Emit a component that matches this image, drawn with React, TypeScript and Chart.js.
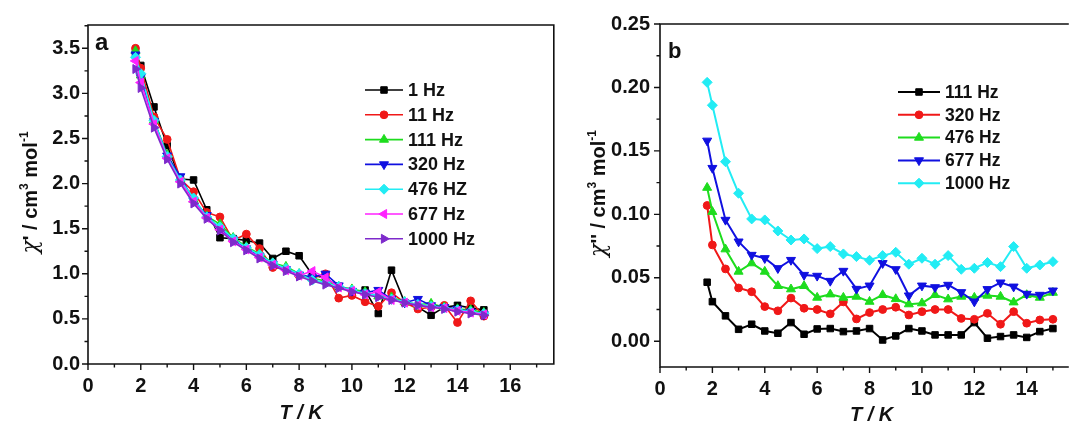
import React, { useEffect, useRef } from "react";
import { Chart, registerables } from "chart.js";
import { drawPoint } from "chart.js/helpers";

Chart.register(...registerables);

// ---------- data ----------
const TEMPS = [1.8, 2, 2.5, 3, 3.5, 4, 4.5, 5, 5.5, 6, 6.5, 7, 7.5, 8, 8.5, 9, 9.5, 10, 10.5, 11, 11.5, 12, 12.5, 13, 13.5, 14, 14.5, 15];

// panel a : chi'
const A_LABELS = ["1 Hz", "11 Hz", "111 Hz", "320 Hz", "476 HZ", "677 Hz", "1000 Hz"];
const A_1HZ = [3.45, 3.31, 2.85, 2.42, 2.05, 2.04, 1.71, 1.40, 1.39, 1.37, 1.34, 1.17, 1.25, 1.20, 0.99, 0.95, 0.86, 0.80, 0.82, 0.56, 1.04, 0.68, 0.63, 0.54, 0.63, 0.65, 0.62, 0.60];
const A_11HZ = [3.50, 3.28, 2.74, 2.49, 2.05, 1.91, 1.68, 1.63, 1.37, 1.44, 1.28, 1.07, 1.05, 0.98, 0.95, 1.00, 0.73, 0.76, 0.69, 0.64, 0.79, 0.68, 0.61, 0.63, 0.65, 0.46, 0.70, 0.53];
const A_111HZ = [3.47, 3.20, 2.70, 2.32, 2.05, 1.82, 1.64, 1.55, 1.40, 1.30, 1.22, 1.12, 1.08, 1.00, 0.95, 0.92, 0.86, 0.83, 0.80, 0.75, 0.74, 0.69, 0.66, 0.67, 0.63, 0.61, 0.60, 0.57];
const A_320HZ = [3.43, 3.18, 2.69, 2.31, 2.08, 1.81, 1.65, 1.50, 1.38, 1.28, 1.20, 1.11, 1.05, 0.99, 0.96, 1.00, 0.87, 0.81, 0.79, 0.82, 0.72, 0.68, 0.72, 0.65, 0.63, 0.61, 0.58, 0.55];
const A_476HZ = [3.40, 3.22, 2.70, 2.30, 2.04, 1.84, 1.63, 1.52, 1.39, 1.29, 1.21, 1.12, 1.06, 1.00, 0.93, 0.90, 0.86, 0.82, 0.78, 0.76, 0.72, 0.69, 0.66, 0.64, 0.62, 0.60, 0.58, 0.56];
const A_677HZ = [3.36, 3.12, 2.66, 2.28, 2.02, 1.80, 1.62, 1.49, 1.36, 1.27, 1.18, 1.10, 1.04, 0.98, 1.03, 0.96, 0.85, 0.81, 0.77, 0.80, 0.71, 0.68, 0.65, 0.63, 0.62, 0.59, 0.57, 0.55];
const A_1000HZ = [3.27, 3.06, 2.62, 2.27, 2.00, 1.78, 1.61, 1.48, 1.35, 1.26, 1.17, 1.09, 1.03, 0.97, 0.92, 0.88, 0.84, 0.80, 0.77, 0.74, 0.71, 0.68, 0.65, 0.63, 0.61, 0.58, 0.56, 0.54];

// panel b : chi''
const B_LABELS = ["111 Hz", "320 Hz", "476 Hz", "677 Hz", "1000 Hz"];
const B_111HZ = [0.0465, 0.0312, 0.020, 0.0094, 0.0134, 0.0081, 0.0063, 0.0147, 0.0055, 0.0097, 0.010, 0.0076, 0.0081, 0.010, 0.001, 0.0042, 0.010, 0.0081, 0.005, 0.005, 0.005, 0.0147, 0.0024, 0.0037, 0.005, 0.003, 0.0076, 0.010];
const B_320HZ = [0.107, 0.0759, 0.057, 0.042, 0.039, 0.0273, 0.024, 0.034, 0.026, 0.025, 0.0216, 0.031, 0.0176, 0.0226, 0.025, 0.0268, 0.0207, 0.0233, 0.025, 0.025, 0.018, 0.0173, 0.022, 0.0134, 0.0233, 0.0142, 0.0168, 0.0173];
const B_476HZ = [0.121, 0.102, 0.0725, 0.0549, 0.0615, 0.0549, 0.0436, 0.041, 0.0436, 0.0344, 0.037, 0.0344, 0.0352, 0.0312, 0.0365, 0.0333, 0.0292, 0.030, 0.0365, 0.0331, 0.0352, 0.0344, 0.036, 0.0352, 0.0307, 0.0365, 0.0344, 0.0383];
const B_677HZ = [0.158, 0.1365, 0.0956, 0.0785, 0.068, 0.0654, 0.0575, 0.064, 0.0522, 0.0515, 0.0475, 0.0554, 0.0412, 0.0438, 0.0615, 0.0567, 0.036, 0.0438, 0.0425, 0.0444, 0.0386, 0.0312, 0.041, 0.0462, 0.043, 0.0373, 0.0365, 0.0399];
const B_1000HZ = [0.204, 0.186, 0.1415, 0.1166, 0.0964, 0.0956, 0.0869, 0.0798, 0.0806, 0.073, 0.0746, 0.0688, 0.0667, 0.0638, 0.0675, 0.0701, 0.0607, 0.0654, 0.0607, 0.0675, 0.0567, 0.0575, 0.062, 0.0588, 0.0746, 0.0575, 0.0601, 0.0627];

// ticks
const X_MAJOR = [0, 2, 4, 6, 8, 10, 12, 14, 16];
const X_MINOR = [1, 3, 5, 7, 9, 11, 13, 15, 17];
const YA_MAJOR = [0, 0.5, 1, 1.5, 2, 2.5, 3, 3.5];
const YA_MINOR = [0.25, 0.75, 1.25, 1.75, 2.25, 2.75, 3.25, 3.75];
const YB_MAJOR = [0, 0.05, 0.1, 0.15, 0.2, 0.25];
const YB_MINOR = [0.025, 0.075, 0.125, 0.175, 0.225];

// ---------- styles ----------
const INK = "#111111";
const SANS = '"Liberation Sans", Arial, sans-serif';
const BLACK = { color: "#000000", style: "rect", rot: 0, r: 4.6 };
const RED = { color: "#F01818", style: "circle", rot: 0, r: 3.9 };
const GREEN = { color: "#1EDC1E", style: "triangle", rot: 0, r: 5.2 };
const BLUE = { color: "#1010E0", style: "triangle", rot: 180, r: 5.2 };
const CYAN = { color: "#22ECF4", style: "rectRot", rot: 0, r: 5 };
const MAGENTA = { color: "#FF22FF", style: "triangle", rot: 270, r: 5.2 };
const PURPLE = { color: "#7E2ACB", style: "triangle", rot: 90, r: 5.2 };

type Seg = { t: string; f: string; dy?: number };

function drawRotated(ctx: CanvasRenderingContext2D, segs: Seg[], cx: number, cy: number) {
  ctx.save();
  ctx.translate(cx, cy);
  ctx.rotate(-Math.PI / 2);
  let w = 0;
  segs.forEach((s) => {
    ctx.font = s.f;
    w += ctx.measureText(s.t).width;
  });
  let x = -w / 2;
  ctx.textAlign = "left";
  ctx.textBaseline = "alphabetic";
  segs.forEach((s) => {
    ctx.font = s.f;
    ctx.fillText(s.t, x, 7 + (s.dy || 0));
    x += ctx.measureText(s.t).width;
  });
  ctx.restore();
}

function decor(p: any) {
  return {
    id: "decor",
    afterDraw(chart: any) {
      const ctx: CanvasRenderingContext2D = chart.ctx;
      const a = chart.chartArea;
      const xs = chart.scales.x;
      const ys = chart.scales.y;
      ctx.save();
      // frame
      ctx.strokeStyle = INK;
      ctx.lineWidth = 1.6;
      ctx.beginPath();
      if (p.rightBorder) {
        ctx.rect(a.left, a.top, a.right - a.left, a.bottom - a.top);
      } else {
        ctx.moveTo(a.right + 2, a.top);
        ctx.lineTo(a.left, a.top);
        ctx.lineTo(a.left, a.bottom);
        ctx.lineTo(a.right + 2, a.bottom);
      }
      ctx.stroke();
      // tick marks
      ctx.lineWidth = 1.4;
      ctx.beginPath();
      const xt = (vals: number[], len: number) =>
        vals.forEach((v) => {
          if (v > xs.max) return;
          const px = xs.getPixelForValue(v);
          ctx.moveTo(px, a.bottom);
          ctx.lineTo(px, a.bottom + len);
        });
      const yt = (vals: number[], len: number) =>
        vals.forEach((v) => {
          if (v > ys.max || v < ys.min) return;
          const py = ys.getPixelForValue(v);
          ctx.moveTo(a.left, py);
          ctx.lineTo(a.left - len, py);
        });
      xt(X_MAJOR, 6);
      xt(X_MINOR, 3.5);
      yt(p.yMajor, 6);
      yt(p.yMinor, 3.5);
      ctx.stroke();
      // x title
      ctx.fillStyle = INK;
      ctx.font = `italic bold 20px ${SANS}`;
      ctx.textAlign = "center";
      ctx.textBaseline = "middle";
      ctx.fillText("T / K", xs.getPixelForValue(8) + 2, p.xTitleY);
      // y title
      drawRotated(ctx, p.yTitle, p.yTitleX, (a.top + a.bottom) / 2 - 2);
      // panel letter
      ctx.font = p.letterFont;
      ctx.textAlign = "left";
      ctx.textBaseline = "alphabetic";
      ctx.fillText(p.letter, p.letterX, p.letterY);
      // legend
      const L = p.legend;
      chart.data.datasets.forEach((ds: any, i: number) => {
        const y = L.y0 + i * L.dy;
        ctx.strokeStyle = ds.borderColor;
        ctx.lineWidth = ds.borderWidth;
        ctx.beginPath();
        ctx.moveTo(L.x0, y);
        ctx.lineTo(L.x1, y);
        ctx.stroke();
        ctx.fillStyle = ds.pointBackgroundColor;
        ctx.strokeStyle = ds.pointBorderColor;
        ctx.lineWidth = 1;
        drawPoint(ctx, { pointStyle: ds.pointStyle, rotation: ds.pointRotation, radius: ds.pointRadius, borderWidth: 1 } as any, (L.x0 + L.x1) / 2, y);
        ctx.fillStyle = INK;
        ctx.font = `bold ${L.size}px ${SANS}`;
        ctx.textAlign = "left";
        ctx.textBaseline = "middle";
        ctx.fillText(ds.label, L.tx, y + 1);
      });
      ctx.restore();
    },
  };
}

function buildConfig(p: any): any {
  const tickFont = { family: SANS, size: 20, weight: "bold" };
  return {
    type: "line",
    data: {
      datasets: p.series.map((s: any, i: number) => ({
        label: s.label,
        data: TEMPS.map((t, j) => ({ x: t, y: s.values[j] })),
        borderColor: s.st.color,
        backgroundColor: s.st.color,
        pointBackgroundColor: s.st.color,
        pointBorderColor: s.st.color,
        pointStyle: s.st.style,
        pointRotation: s.st.rot,
        pointRadius: s.st.r,
        pointBorderWidth: 1,
        borderWidth: p.lineWidth,
        tension: 0,
        order: -i,
      })),
    },
    options: {
      responsive: false,
      animation: false,
      devicePixelRatio: 1,
      events: [],
      layout: { padding: p.padding },
      plugins: { legend: { display: false }, tooltip: { enabled: false } },
      scales: {
        x: {
          type: "linear",
          min: 0,
          max: p.xMax,
          grid: { display: false, drawTicks: false },
          border: { display: false },
          ticks: { padding: p.xPad, font: tickFont, color: INK, maxRotation: 0, autoSkip: false, includeBounds: false, callback: (v: any) => String(v) },
          afterBuildTicks: (s: any) => {
            s.ticks = X_MAJOR.filter((v) => v <= p.xMax).map((v) => ({ value: v }));
          },
          afterFit: (s: any) => {
            s.height = p.xH;
          },
        },
        y: {
          type: "linear",
          min: p.yMin,
          max: p.yMax,
          grid: { display: false, drawTicks: false },
          border: { display: false },
          ticks: { padding: p.yPad, font: tickFont, color: INK, autoSkip: false, includeBounds: false, callback: (v: any) => Number(v).toFixed(p.yDec) },
          afterBuildTicks: (s: any) => {
            s.ticks = p.yMajor.map((v: number) => ({ value: v }));
          },
          afterFit: (s: any) => {
            s.width = p.yW;
          },
        },
      },
    },
    plugins: [decor(p)],
  };
}

const B20 = `bold 20px ${SANS}`;
const B12 = `bold 12px ${SANS}`;
const CHI = 'italic 22px "DejaVu Serif", serif';

const PANEL_A = {
  series: [
    { label: A_LABELS[0], values: A_1HZ, st: BLACK },
    { label: A_LABELS[1], values: A_11HZ, st: RED },
    { label: A_LABELS[2], values: A_111HZ, st: GREEN },
    { label: A_LABELS[3], values: A_320HZ, st: BLUE },
    { label: A_LABELS[4], values: A_476HZ, st: CYAN },
    { label: A_LABELS[5], values: A_677HZ, st: MAGENTA },
    { label: A_LABELS[6], values: A_1000HZ, st: PURPLE },
  ],
  lineWidth: 1.6,
  padding: { left: 0, right: 6, top: 25, bottom: 0 },
  xMax: 17.65,
  yMin: 0,
  yMax: 3.758,
  yDec: 1,
  yMajor: YA_MAJOR,
  yMinor: YA_MINOR,
  yW: 88,
  xH: 59,
  xPad: 10,
  yPad: 8,
  rightBorder: true,
  xTitleY: 413,
  yTitleX: 30,
  yTitle: [
    { t: "χ", f: CHI },
    { t: "' / cm", f: B20 },
    { t: "3", f: B12, dy: -9 },
    { t: " mol", f: B20 },
    { t: "-1", f: B12, dy: -9 },
  ],
  letter: "a",
  letterFont: `bold 24px ${SANS}`,
  letterX: 95,
  letterY: 50,
  legend: { x0: 365, x1: 403, tx: 408, y0: 90, dy: 24.8, size: 18 },
};

const PANEL_B = {
  series: [
    { label: B_LABELS[0], values: B_111HZ, st: BLACK },
    { label: B_LABELS[1], values: B_320HZ, st: RED },
    { label: B_LABELS[2], values: B_476HZ, st: GREEN },
    { label: B_LABELS[3], values: B_677HZ, st: BLUE },
    { label: B_LABELS[4], values: B_1000HZ, st: CYAN },
  ],
  lineWidth: 2,
  padding: { left: 0, right: 0, top: 24, bottom: 0 },
  xMax: 15.53,
  yMin: -0.0203,
  yMax: 0.25,
  yDec: 2,
  yMajor: YB_MAJOR,
  yMinor: YB_MINOR,
  yW: 100,
  xH: 56,
  xPad: 10,
  yPad: 10,
  rightBorder: false,
  xTitleY: 415,
  yTitleX: 38,
  yTitle: [
    { t: "χ", f: CHI },
    { t: "'' / cm", f: B20 },
    { t: "3", f: B12, dy: -9 },
    { t: " mol", f: B20 },
    { t: "-1", f: B12, dy: -9 },
  ],
  letter: "b",
  letterFont: `bold 22px ${SANS}`,
  letterX: 108,
  letterY: 58,
  legend: { x0: 338, x1: 380, tx: 385, y0: 92, dy: 22.8, size: 17.5 },
};

function ChartBox({ panel, left, width }: { panel: any; left: number; width: number }) {
  const ref = useRef<HTMLCanvasElement>(null);
  useEffect(() => {
    const chart = new Chart(ref.current as HTMLCanvasElement, buildConfig(panel));
    return () => chart.destroy();
  }, [panel]);
  return (
    <canvas
      ref={ref}
      width={width}
      height={423}
      style={{ position: "absolute", left, top: 0, width, height: 423, display: "block" }}
    />
  );
}

export default function App() {
  return (
    <div style={{ position: "absolute", left: 0, top: 0, width: 1073, height: 423, overflow: "hidden", background: "#ffffff" }}>
      <ChartBox panel={PANEL_A} left={0} width={560} />
      <ChartBox panel={PANEL_B} left={560} width={513} />
    </div>
  );
}
